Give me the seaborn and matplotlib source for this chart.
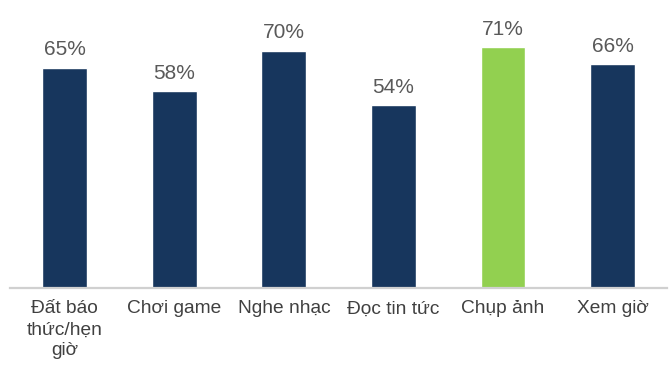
import matplotlib
matplotlib.use("Agg")
import matplotlib.pyplot as plt
import seaborn as sns
import pandas as pd

categories = ["Đất báo\nthức/hẹn\ngiờ", "Chơi game", "Nghe nhạc", "Đọc tin tức", "Chụp ảnh", "Xem giờ"]
values = [65, 58, 70, 54, 71, 66]
bar_colors = ["#17365D", "#17365D", "#17365D", "#17365D", "#92D050", "#17365D"]

sns.set_theme(style="white")
plt.rcParams["font.family"] = ["Liberation Sans", "DejaVu Sans"]

df = pd.DataFrame({"activity": categories, "share": values})

fig = plt.figure(figsize=(6.72, 3.72), dpi=100)
ax = fig.add_axes([0.015, 0.226, 0.978, 0.774])

sns.barplot(data=df, x="activity", y="share", hue="activity",
            palette=dict(zip(categories, bar_colors)), legend=False,
            width=0.41, saturation=1, ax=ax)

for cont in ax.containers:
    ax.bar_label(cont, labels=[f"{v:.0f}%" for v in cont.datavalues],
                 padding=6, fontsize=15, color="#595959")

ax.set_ylim(0, 85)
ax.set_xlim(-0.5, len(categories) - 0.5)
ax.set_xlabel("")
ax.set_ylabel("")
ax.set_yticks([])
for side in ["top", "left", "right"]:
    ax.spines[side].set_visible(False)
ax.spines["bottom"].set_color("#D0D0D0")
ax.spines["bottom"].set_linewidth(1.6)
ax.tick_params(axis="x", length=0, pad=9, labelsize=13.8, labelcolor="#404040")
for lbl in ax.get_xticklabels():
    lbl.set_linespacing(1.3)
ax.set_facecolor("white")
fig.patch.set_facecolor("white")

fig.savefig("out.png", dpi=100, facecolor="white")
